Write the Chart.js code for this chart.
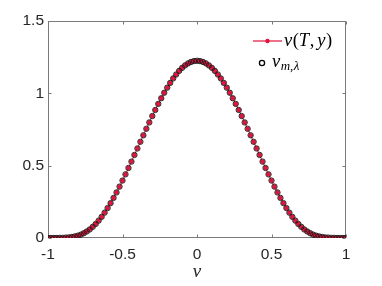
<!DOCTYPE html>
<html>
<head>
<meta charset="utf-8">
<script src="https://cdn.jsdelivr.net/npm/chart.js@4.4.0/dist/chart.umd.min.js"></script>
<style>
    html, body { margin: 0; padding: 0; background: #ffffff; }
    #contenedor { width: 382px; height: 286px; }
</style>
</head>
<body>
<div id="contenedor"><canvas id="perfilChart"></canvas></div>
<script>
// DATOS
const vMalla = [
    -1.00, -0.98, -0.96, -0.94, -0.92, -0.90, -0.88, -0.86, -0.84, -0.82,
    -0.80, -0.78, -0.76, -0.74, -0.72, -0.70, -0.68, -0.66, -0.64, -0.62,
    -0.60, -0.58, -0.56, -0.54, -0.52, -0.50, -0.48, -0.46, -0.44, -0.42,
    -0.40, -0.38, -0.36, -0.34, -0.32, -0.30, -0.28, -0.26, -0.24, -0.22,
    -0.20, -0.18, -0.16, -0.14, -0.12, -0.10, -0.08, -0.06, -0.04, -0.02,
    0.00,
    0.02, 0.04, 0.06, 0.08, 0.10, 0.12, 0.14, 0.16, 0.18, 0.20,
    0.22, 0.24, 0.26, 0.28, 0.30, 0.32, 0.34, 0.36, 0.38, 0.40,
    0.42, 0.44, 0.46, 0.48, 0.50, 0.52, 0.54, 0.56, 0.58, 0.60,
    0.62, 0.64, 0.66, 0.68, 0.70, 0.72, 0.74, 0.76, 0.78, 0.80,
    0.82, 0.84, 0.86, 0.88, 0.90, 0.92, 0.94, 0.96, 0.98, 1.00
];

// v(T,y)
const vExacta = [
    0, 0, 0, 0, 0.001, 0.001, 0.003, 0.004, 0.007, 0.011,
    0.016, 0.023, 0.033, 0.045, 0.059, 0.077, 0.097, 0.120, 0.146, 0.175,
    0.207, 0.241, 0.277, 0.315, 0.355, 0.397, 0.440, 0.484, 0.528, 0.574,
    0.619, 0.665, 0.710, 0.755, 0.799, 0.843, 0.885, 0.927, 0.966, 1.004,
    1.039, 1.072, 1.103, 1.130, 1.155, 1.176, 1.193, 1.207, 1.217, 1.223,
    1.225,
    1.223, 1.217, 1.207, 1.193, 1.176, 1.155, 1.130, 1.103, 1.072, 1.039,
    1.004, 0.966, 0.927, 0.885, 0.843, 0.799, 0.755, 0.710, 0.665, 0.619,
    0.574, 0.528, 0.484, 0.440, 0.397, 0.355, 0.315, 0.277, 0.241, 0.207,
    0.175, 0.146, 0.120, 0.097, 0.077, 0.059, 0.045, 0.033, 0.023, 0.016,
    0.011, 0.007, 0.004, 0.003, 0.001, 0.001, 0, 0, 0, 0
];

// v_{m,lambda}: en la figura cae encima de v(T,y)
const vAprox = [
    0, 0, 0, 0, 0.001, 0.001, 0.003, 0.004, 0.007, 0.011,
    0.016, 0.023, 0.033, 0.045, 0.059, 0.077, 0.097, 0.120, 0.146, 0.175,
    0.207, 0.241, 0.277, 0.315, 0.355, 0.397, 0.440, 0.484, 0.528, 0.574,
    0.619, 0.665, 0.710, 0.755, 0.799, 0.843, 0.885, 0.927, 0.966, 1.004,
    1.039, 1.072, 1.103, 1.130, 1.155, 1.176, 1.193, 1.207, 1.217, 1.223,
    1.225,
    1.223, 1.217, 1.207, 1.193, 1.176, 1.155, 1.130, 1.103, 1.072, 1.039,
    1.004, 0.966, 0.927, 0.885, 0.843, 0.799, 0.755, 0.710, 0.665, 0.619,
    0.574, 0.528, 0.484, 0.440, 0.397, 0.355, 0.315, 0.277, 0.241, 0.207,
    0.175, 0.146, 0.120, 0.097, 0.077, 0.059, 0.045, 0.033, 0.023, 0.016,
    0.011, 0.007, 0.004, 0.003, 0.001, 0.001, 0, 0, 0, 0
];

const xTicks = [-1, -0.5, 0, 0.5, 1];
const xTickLabels = ['-1', '-0.5', '0', '0.5', '1'];
const yTicks = [0, 0.5, 1, 1.5];
const yTickLabels = ['0', '0.5', '1', '1.5'];

const ROJO = '#E0143C';
const EJE = '#7a7a7a';
const TEXTO = '#262626';
const SERIF = '"Liberation Serif", "Times New Roman", "DejaVu Serif", serif';

// caja con ticks hacia dentro (estilo matlab)
const cajaPlugin = {
    id: 'caja',
    beforeDatasetsDraw(chart) {
        const {ctx, chartArea: a, scales: {x, y}} = chart;
        const L = Math.round(a.left) + 0.5, R = Math.round(a.right) - 0.5;
        const T = Math.round(a.top) + 0.5, B = Math.round(a.bottom) - 0.5;
        ctx.save();
        ctx.strokeStyle = EJE;
        ctx.lineWidth = 1;
        ctx.strokeRect(L, T, R - L, B - T);
        ctx.beginPath();
        xTicks.forEach(v => {
            const px = Math.round(x.getPixelForValue(v)) + 0.5;
            ctx.moveTo(px, B); ctx.lineTo(px, B - 3);
            ctx.moveTo(px, T); ctx.lineTo(px, T + 3);
        });
        yTicks.forEach(v => {
            const py = Math.round(y.getPixelForValue(v)) + 0.5;
            ctx.moveTo(L, py); ctx.lineTo(L + 3, py);
            ctx.moveTo(R, py); ctx.lineTo(R - 3, py);
        });
        ctx.stroke();
        ctx.restore();
    }
};

function escribirFormula(ctx, partes, x, y) {
    partes.forEach(p => {
        ctx.font = (p.it ? 'italic ' : '') + p.size + 'px ' + SERIF;
        ctx.fillText(p.t, x, y + (p.dy || 0));
        x += ctx.measureText(p.t).width + (p.sp || 0);
    });
}

// leyenda con notacion matematica
const leyendaPlugin = {
    id: 'leyenda',
    afterDraw(chart) {
        const {ctx, chartArea: a} = chart;
        const R = a.right;
        ctx.save();
        ctx.textBaseline = 'alphabetic';

        // entrada 1
        const y1 = a.top + 20;
        ctx.strokeStyle = ROJO;
        ctx.lineWidth = 1.2;
        ctx.beginPath();
        ctx.moveTo(R - 93, y1); ctx.lineTo(R - 64, y1);
        ctx.stroke();
        ctx.fillStyle = ROJO;
        ctx.beginPath();
        ctx.arc(R - 78.5, y1, 2.2, 0, Math.PI * 2);
        ctx.fill();
        ctx.fillStyle = '#000000';
        escribirFormula(ctx, [
            {t: 'v', it: true, size: 18.5, sp: 0.5},
            {t: '(', it: false, size: 18.5},
            {t: 'T', it: true, size: 18.5, sp: 0.5},
            {t: ',', it: false, size: 18.5, sp: 3},
            {t: 'y', it: true, size: 18.5, sp: 0.5},
            {t: ')', it: false, size: 18.5}
        ], R - 62, y1 + 5);

        // entrada 2
        const y2 = a.top + 42;
        ctx.strokeStyle = '#000000';
        ctx.lineWidth = 1.3;
        ctx.beginPath();
        ctx.arc(R - 84, y2, 2.6, 0, Math.PI * 2);
        ctx.stroke();
        escribirFormula(ctx, [
            {t: 'v', it: true, size: 18.5, sp: 0.5},
            {t: 'm', it: true, size: 13, dy: 3.5},
            {t: ',', it: false, size: 13, dy: 3.5, sp: 0.5},
            {t: 'λ', it: true, size: 13, dy: 3.5}
        ], R - 74, y2 + 3.5);
        ctx.restore();
    }
};

document.addEventListener('DOMContentLoaded', function() {
    const ctx = document.getElementById('perfilChart').getContext('2d');

    const perfilChart = new Chart(ctx, {
        type: 'line',
        data: {
            datasets: [{
                label: 'v(T,y)',
                data: vMalla.map((v, i) => ({x: v, y: vExacta[i]})),
                borderColor: ROJO,
                backgroundColor: ROJO,
                borderWidth: 1,
                pointRadius: 2.4,
                pointBorderWidth: 0,
                pointBackgroundColor: ROJO,
                tension: 0,
                order: 2
            }, {
                label: 'v_{m,λ}',
                data: vMalla.map((v, i) => ({x: v, y: vAprox[i]})),
                showLine: false,
                pointRadius: 2.7,
                pointBorderWidth: 0.9,
                pointBorderColor: '#1a1a1a',
                pointBackgroundColor: 'rgba(0,0,0,0)',
                order: 1
            }]
        },
        options: {
            responsive: true,
            maintainAspectRatio: false,
            animation: false,
            layout: {
                padding: {left: 0, right: 36, top: 21, bottom: 0}
            },
            plugins: {
                legend: {display: false},
                tooltip: {enabled: false}
            },
            scales: {
                x: {
                    type: 'linear',
                    min: -1,
                    max: 1,
                    afterBuildTicks: s => { s.ticks = xTicks.map(v => ({value: v})); },
                    afterFit: s => { s.height = 48; },
                    grid: {display: false, drawTicks: false},
                    border: {display: false},
                    ticks: {
                        color: TEXTO,
                        padding: 7,
                        maxRotation: 0,
                        autoSkip: false,
                        font: {family: 'Liberation Sans', size: 15.5},
                        callback: v => xTickLabels[xTicks.indexOf(v)]
                    },
                    title: {
                        display: true,
                        text: 'v',
                        color: TEXTO,
                        padding: {top: 0, bottom: 3},
                        font: {family: SERIF, style: 'italic', size: 19}
                    }
                },
                y: {
                    min: 0,
                    max: 1.5,
                    afterBuildTicks: s => { s.ticks = yTicks.map(v => ({value: v})); },
                    afterFit: s => { s.width = 48; },
                    grid: {display: false, drawTicks: false},
                    border: {display: false},
                    ticks: {
                        color: TEXTO,
                        padding: 4,
                        font: {family: 'Liberation Sans', size: 15.5},
                        callback: v => yTickLabels[yTicks.indexOf(v)]
                    }
                }
            }
        },
        plugins: [cajaPlugin, leyendaPlugin]
    });
});
</script>
</body>
</html>
